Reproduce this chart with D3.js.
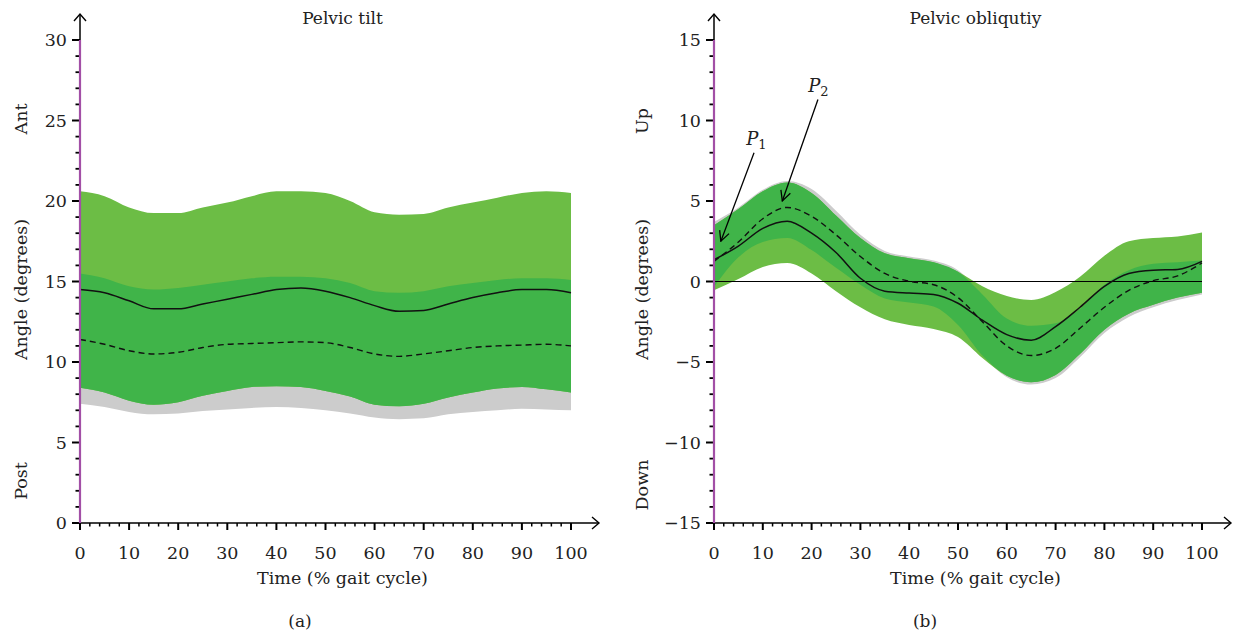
<!DOCTYPE html>
<html><head><meta charset="utf-8">
<script src="https://cdn.jsdelivr.net/npm/d3@7"></script>
<style>
html,body{margin:0;padding:0;background:#fff;}
svg text{font-family:"DejaVu Serif","Liberation Serif",serif;fill:#222;}
</style></head>
<body><svg id="chart" width="1236" height="632"></svg>
<script>
// ---------- DATA ----------
const gait = [0,5,10,15,20,25,30,35,40,45,50,55,60,65,70,75,80,85,90,95,100];

// Panel (a) Pelvic tilt
const tiltMean   = [14.5,14.3,13.8,13.3,13.3,13.6,13.9,14.2,14.5,14.6,14.4,14.0,13.5,13.15,13.2,13.6,14.0,14.3,14.5,14.5,14.3];
const tiltDashed = [11.4,11.1,10.7,10.5,10.6,10.9,11.1,11.15,11.2,11.25,11.2,10.9,10.5,10.35,10.5,10.7,10.9,11.0,11.05,11.1,11.0];
const tiltBandAUpper = [15.5,15.2,14.7,14.5,14.6,14.8,15.0,15.2,15.3,15.3,15.2,14.9,14.4,14.3,14.4,14.7,14.9,15.1,15.2,15.2,15.1];
const tiltBandALower = [7.4,7.2,6.9,6.75,6.8,6.95,7.05,7.15,7.2,7.15,7.0,6.8,6.55,6.45,6.5,6.75,6.9,7.0,7.1,7.05,7.0];
const tiltBandBUpper = [20.6,20.3,19.6,19.25,19.25,19.6,19.9,20.3,20.6,20.6,20.5,20.0,19.3,19.15,19.2,19.6,19.9,20.2,20.5,20.6,20.5];
const tiltBandBLower = [8.4,8.1,7.6,7.35,7.5,7.9,8.2,8.45,8.5,8.45,8.2,7.85,7.35,7.25,7.4,7.8,8.1,8.35,8.45,8.3,8.1];

// Panel (b) Pelvic obliquity
const obliqMean   = [1.35,2.2,3.3,3.75,3.0,1.8,0.2,-0.6,-0.72,-0.8,-1.35,-2.4,-3.3,-3.65,-2.8,-1.6,-0.3,0.5,0.7,0.75,1.25];
const obliqDashed = [1.25,2.45,3.9,4.6,4.05,2.9,1.55,0.5,0.02,-0.2,-1.0,-2.5,-4.0,-4.6,-4.15,-2.9,-1.6,-0.55,0.05,0.35,1.15];
const obliqBandAUpper = [3.7,4.6,5.7,6.25,5.75,4.4,2.9,1.9,1.55,1.3,0.7,-0.8,-2.3,-2.75,-2.6,-1.7,-0.2,0.7,1.1,1.2,1.3];
const obliqBandALower = [-0.35,1.5,2.45,2.7,1.95,0.85,-0.2,-1.05,-1.3,-1.55,-2.7,-4.6,-5.95,-6.4,-6.0,-4.7,-3.2,-2.2,-1.6,-1.15,-0.8];
const obliqBandBUpper = [3.5,4.5,5.6,6.15,5.5,4.1,2.7,1.75,1.45,1.2,0.6,-0.3,-0.9,-1.15,-0.65,0.3,1.6,2.5,2.7,2.8,3.05];
const obliqBandBLower = [-0.55,0.15,0.9,1.15,0.5,-0.6,-1.6,-2.35,-2.7,-2.95,-3.45,-4.75,-5.85,-6.25,-5.8,-4.5,-3.0,-2.0,-1.45,-1.0,-0.7];

const xTicks = [0,10,20,30,40,50,60,70,80,90,100];
const tiltYTicks = [0,5,10,15,20,25,30];
const obliqYTicks = [-15,-10,-5,0,5,10,15];

const colors = {bandA:"#cccccc", bandB:"#6cbd45", overlap:"#40b449", axis:"#000", purple:"#a24fa6"};

// ---------- DRAW ----------
const svg = d3.select("#chart");
const defs = svg.append("defs");
defs.append("marker").attr("id","openArrow").attr("viewBox","0 0 12 12")
  .attr("refX",11).attr("refY",6).attr("markerWidth",12).attr("markerHeight",12)
  .attr("markerUnits","userSpaceOnUse").attr("orient","auto")
  .append("path").attr("d","M1,1 L11,6 L1,11").attr("fill","none").attr("stroke","#000").attr("stroke-width",1.3);

function panel(cfg){
  const x = d3.scaleLinear().domain([0,100]).range([cfg.left, cfg.right]);
  const y = d3.scaleLinear().domain(cfg.yDomain).range([cfg.bottom, cfg.top]);
  const g = svg.append("g");
  const pts = gait.map((t,i)=>({t, aU:cfg.aU[i], aL:cfg.aL[i], bU:cfg.bU[i], bL:cfg.bL[i], m:cfg.mean[i], d:cfg.dashed[i]}));
  const curve = d3.curveMonotoneX;
  const area = (lo,hi)=>d3.area().x(p=>x(p.t)).y0(p=>y(lo(p))).y1(p=>y(hi(p))).curve(curve);
  g.append("path").datum(pts).attr("d", area(p=>p.aL, p=>p.aU)).attr("fill", colors.bandA);
  g.append("path").datum(pts).attr("d", area(p=>p.bL, p=>p.bU)).attr("fill", colors.bandB);
  g.append("path").datum(pts).attr("d", area(p=>Math.max(p.aL,p.bL), p=>Math.min(p.aU,p.bU))).attr("fill", colors.overlap);

  if (cfg.zeroLine){
    g.append("line").attr("x1",x(0)).attr("x2",x(100)).attr("y1",y(0)).attr("y2",y(0))
      .attr("stroke","#000").attr("stroke-width",1.2);
  }
  const line = acc => d3.line().x(p=>x(p.t)).y(p=>y(acc(p))).curve(curve);
  g.append("path").datum(pts).attr("d", line(p=>p.d)).attr("fill","none").attr("stroke","#111")
    .attr("stroke-width",1.4).attr("stroke-dasharray","6,4");
  g.append("path").datum(pts).attr("d", line(p=>p.m)).attr("fill","none").attr("stroke","#111").attr("stroke-width",1.5);

  // x axis
  const y0 = cfg.bottom;
  g.append("line").attr("x1",cfg.left).attr("x2",cfg.xArrow).attr("y1",y0).attr("y2",y0).attr("stroke","#000").attr("stroke-width",1.5);
  g.append("path").attr("d",`M${cfg.xArrow-7},${y0-6} L${cfg.xArrow},${y0} L${cfg.xArrow-7},${y0+6}`)
    .attr("fill","none").attr("stroke","#000").attr("stroke-width",1.4);
  const xMinor = d3.range(0,101,2);
  g.selectAll(null).data(xMinor).enter().append("line")
    .attr("x1",d=>x(d)).attr("x2",d=>x(d)).attr("y1",y0).attr("y2",d=>y0+(d%10===0?7:3.5))
    .attr("stroke","#000").attr("stroke-width",d=>d%10===0?2:1.5);
  g.selectAll(null).data(xTicks).enter().append("text")
    .attr("x",d=>x(d)).attr("y",y0+36).attr("text-anchor","middle").attr("font-size",17.5).text(d=>d);

  // y axis
  const x0 = cfg.left;
  g.append("line").attr("x1",x0).attr("x2",x0).attr("y1",y0).attr("y2",cfg.yArrow).attr("stroke","#000").attr("stroke-width",1.5);
  g.append("path").attr("d",`M${x0-6},${cfg.yArrow+7} L${x0},${cfg.yArrow} L${x0+6},${cfg.yArrow+7}`)
    .attr("fill","none").attr("stroke","#000").attr("stroke-width",1.4);
  const yMinor = d3.range(cfg.yDomain[0], cfg.yDomain[1]+1, 1);
  g.selectAll(null).data(yMinor).enter().append("line")
    .attr("x1",d=>x0-(d%5===0?8:4.5)).attr("x2",x0).attr("y1",d=>y(d)).attr("y2",d=>y(d))
    .attr("stroke","#000").attr("stroke-width",d=>d%5===0?2:1.8);
  g.append("line").attr("x1",x0).attr("x2",x0).attr("y1",y(cfg.yDomain[0])).attr("y2",y(cfg.yDomain[1]))
    .attr("stroke",colors.purple).attr("stroke-width",2.2);
  g.selectAll(null).data(cfg.yTicks).enter().append("text")
    .attr("x",x0-13).attr("y",d=>y(d)+6).attr("text-anchor","end").attr("font-size",17.5)
    .text(d=>d<0?"\u2212"+Math.abs(d):d);

  // labels
  const cx = (cfg.left+cfg.xArrow)/2 + 3;
  g.append("text").attr("x",cx).attr("y",24).attr("text-anchor","middle").attr("font-size",17).text(cfg.title);
  g.append("text").attr("x",cx).attr("y",y0+61).attr("text-anchor","middle").attr("font-size",17.5).text("Time (% gait cycle)");
  g.append("text").attr("x",cfg.subX).attr("y",y0+104).attr("text-anchor","middle").attr("font-size",17).text(cfg.sub);
  const rot = (txt, cy) => g.append("text").attr("transform",`translate(${cfg.labelX},${cy}) rotate(-90)`)
      .attr("text-anchor","middle").attr("font-size",17.5).text(txt);
  rot("Angle (degrees)", y((cfg.yDomain[0]+cfg.yDomain[1])/2)+8);
  rot(cfg.upLabel, cfg.upY);
  rot(cfg.downLabel, cfg.downY);

  return {x,y,g};
}

panel({left:80,right:571,top:40,bottom:523,yDomain:[0,30],yTicks:tiltYTicks,xArrow:599,yArrow:14,
  aU:tiltBandAUpper,aL:tiltBandALower,bU:tiltBandBUpper,bL:tiltBandBLower,mean:tiltMean,dashed:tiltDashed,
  title:"Pelvic tilt",sub:"(a)",subX:300,labelX:27,upLabel:"Ant",upY:119,downLabel:"Post",downY:481,zeroLine:false});

const pb = panel({left:714,right:1202,top:40,bottom:523,yDomain:[-15,15],yTicks:obliqYTicks,xArrow:1231,yArrow:14,
  aU:obliqBandAUpper,aL:obliqBandALower,bU:obliqBandBUpper,bL:obliqBandBLower,mean:obliqMean,dashed:obliqDashed,
  title:"Pelvic obliqutiy",sub:"(b)",subX:925,labelX:648,upLabel:"Up",upY:121,downLabel:"Down",downY:485,zeroLine:true});

// annotations (data coordinates)
const notes = [
  {label:"1", tail:[8.2,8.0], tip:[1.4,2.5], text:[6.6,8.5]},
  {label:"2", tail:[21.3,11.3], tip:[14.0,5.0], text:[19.3,11.8]}
];
notes.forEach(n=>{
  pb.g.append("line").attr("x1",pb.x(n.tail[0])).attr("y1",pb.y(n.tail[1]))
    .attr("x2",pb.x(n.tip[0])).attr("y2",pb.y(n.tip[1]))
    .attr("stroke","#000").attr("stroke-width",1.3).attr("marker-end","url(#openArrow)");
  const t = pb.g.append("text").attr("x",pb.x(n.text[0])).attr("y",pb.y(n.text[1])).attr("font-size",18);
  t.append("tspan").attr("font-style","italic").text("P");
  t.append("tspan").attr("dy",4).attr("font-size",13).text(n.label);
});
</script></body></html>
